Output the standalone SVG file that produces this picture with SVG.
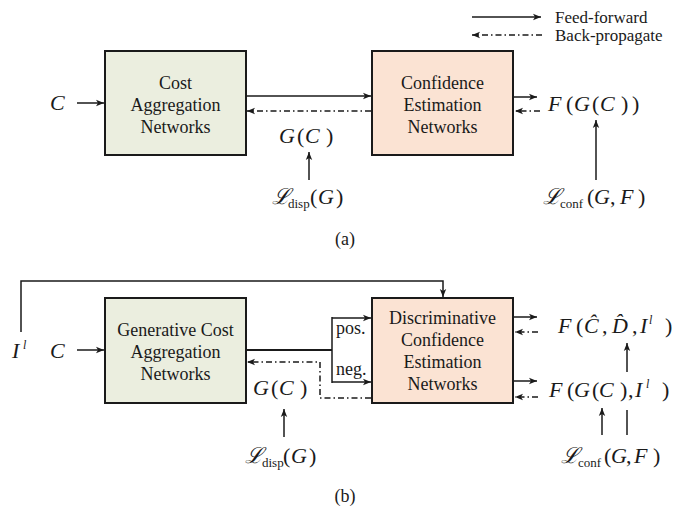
<svg xmlns="http://www.w3.org/2000/svg" width="691" height="506" viewBox="0 0 691 506">
<style>
.b1{fill:#ebeedf;stroke:#1a1a1a;stroke-width:2}
.b2{fill:#fbe3d3;stroke:#1a1a1a;stroke-width:2}
.t{font-family:"Liberation Serif","Times New Roman",serif;font-size:18px;fill:#1a1a1a;text-anchor:middle}
.tl{font-family:"Liberation Serif","Times New Roman",serif;font-size:18px;fill:#1a1a1a}
.lg{font-family:"Liberation Serif","Times New Roman",serif;font-size:17px;fill:#1a1a1a}
.m{font-family:"Liberation Serif","DejaVu Serif",serif;font-size:22px;fill:#1a1a1a}
.i{font-style:italic}
.sub{font-size:13px;font-style:normal}
.sup{font-size:12px;font-style:italic}
.ff{fill:none;stroke:#1a1a1a;stroke-width:1.5;marker-end:url(#ah)}
.bp{fill:none;stroke:#1a1a1a;stroke-width:1.5;stroke-dasharray:6 3 1.5 3;marker-end:url(#ah)}
.pl{fill:none;stroke:#1a1a1a;stroke-width:1.5}
.pl2{fill:none;stroke:#1a1a1a;stroke-width:2}
</style>
<defs>
<marker id="ah" markerUnits="userSpaceOnUse" markerWidth="10" markerHeight="8" refX="8" refY="4" orient="auto">
<path d="M0,0.8 L8,4 L0,7.2 L2,4 z" fill="#1a1a1a"/>
</marker>
</defs>
<rect width="691" height="506" fill="#ffffff"/>

<g id="legend">
<path class="ff" d="M472,17 H541"/>
<text class="lg" x="555" y="23">Feed-forward</text>
<path class="bp" d="M542,35 H472"/>
<text class="lg" x="555" y="41">Back-propagate</text>
</g>

<!-- Panel (a) -->
<g id="a-cost">
<rect class="b1" x="105" y="51" width="141" height="104"/>
<text class="t" x="175.5" y="89">Cost</text>
<text class="t" x="175.5" y="111">Aggregation</text>
<text class="t" x="175.5" y="133">Networks</text>
</g>
<g id="a-conf">
<rect class="b2" x="372" y="51" width="141" height="104"/>
<text class="t" x="442.5" y="89">Confidence</text>
<text class="t" x="442.5" y="111">Estimation</text>
<text class="t" x="442.5" y="133">Networks</text>
</g>
<g id="a-C"><text class="m i" x="50" y="110">C</text></g>
<g id="a-GC"><text class="m" y="143"><tspan class="i" x="279">G</tspan><tspan x="297">(</tspan><tspan class="i" x="305">C</tspan><tspan x="326">)</tspan></text></g>
<g id="a-Ldisp"><text class="m" y="204"><tspan class="i" x="272">ℒ</tspan><tspan class="sub" x="288" dy="4">disp</tspan><tspan x="310" dy="-4">(</tspan><tspan class="i" x="318">G</tspan><tspan x="336">)</tspan></text></g>
<g id="a-FGC"><text class="m" y="111"><tspan class="i" x="548">F</tspan><tspan x="566">(</tspan><tspan class="i" x="574">G</tspan><tspan x="592">(</tspan><tspan class="i" x="600">C</tspan><tspan x="621">)</tspan><tspan x="632">)</tspan></text></g>
<g id="a-Lconf"><text class="m" y="204"><tspan class="i" x="543">ℒ</tspan><tspan class="sub" x="560" dy="4">conf</tspan><tspan x="587" dy="-4">(</tspan><tspan class="i" x="594">G</tspan><tspan x="610">,</tspan><tspan class="i" x="620">F</tspan><tspan x="638">)</tspan></text></g>
<g id="a-label"><text class="t" x="345" y="245">(a)</text></g>

<g id="a-connectors">
<path class="ff" d="M77,103 H104"/>
<path class="ff" d="M246,96 H371"/>
<path class="bp" d="M371,111 H247"/>
<path class="ff" d="M514,97 H537"/>
<path class="bp" d="M540,111 H515"/>
<path class="ff" d="M309,180 V152"/>
<path class="ff" d="M596,180 V120"/>
</g>

<!-- Panel (b) -->
<g id="b-gen">
<rect class="b1" x="105" y="298" width="141" height="105"/>
<text class="t" x="175.5" y="336">Generative Cost</text>
<text class="t" x="175.5" y="358">Aggregation</text>
<text class="t" x="175.5" y="380">Networks</text>
</g>
<g id="b-disc">
<rect class="b2" x="372" y="298" width="141" height="105"/>
<text class="t" x="442.5" y="324">Discriminative</text>
<text class="t" x="442.5" y="346">Confidence</text>
<text class="t" x="442.5" y="368">Estimation</text>
<text class="t" x="442.5" y="390">Networks</text>
</g>
<g id="b-Il"><text class="m" y="358"><tspan class="i" x="12">I</tspan><tspan class="sup" x="23" dy="-9">l</tspan></text></g>
<g id="b-C"><text class="m i" x="50" y="358">C</text></g>
<g id="b-pos"><text class="tl" x="336" y="334">pos.</text></g>
<g id="b-neg"><text class="tl" x="336" y="375">neg.</text></g>
<g id="b-GC"><text class="m" y="395"><tspan class="i" x="253">G</tspan><tspan x="271">(</tspan><tspan class="i" x="279">C</tspan><tspan x="300">)</tspan></text></g>
<g id="b-Ldisp"><text class="m" y="463"><tspan class="i" x="245">ℒ</tspan><tspan class="sub" x="262" dy="4">disp</tspan><tspan x="283" dy="-4">(</tspan><tspan class="i" x="291">G</tspan><tspan x="309">)</tspan></text></g>
<g id="b-FCD"><text class="m" y="333"><tspan class="i" x="558">F</tspan><tspan x="576">(</tspan><tspan class="i" x="584">Ĉ</tspan><tspan x="602">,</tspan><tspan class="i" x="612">D̂</tspan><tspan x="632">,</tspan><tspan class="i" x="640">I</tspan><tspan class="sup" x="649" dy="-9">l</tspan><tspan x="665" dy="9">)</tspan></text></g>
<g id="b-FGCI"><text class="m" y="397"><tspan class="i" x="549">F</tspan><tspan x="567">(</tspan><tspan class="i" x="574">G</tspan><tspan x="592">(</tspan><tspan class="i" x="599">C</tspan><tspan x="620">)</tspan><tspan x="628">,</tspan><tspan class="i" x="635">I</tspan><tspan class="sup" x="646" dy="-9">l</tspan><tspan x="662" dy="9">)</tspan></text></g>
<g id="b-Lconf"><text class="m" y="463"><tspan class="i" x="561">ℒ</tspan><tspan class="sub" x="578" dy="4">conf</tspan><tspan x="604" dy="-4">(</tspan><tspan class="i" x="611">G</tspan><tspan x="626">,</tspan><tspan class="i" x="634">F</tspan><tspan x="653">)</tspan></text></g>
<g id="b-label"><text class="t" x="345" y="502">(b)</text></g>

<g id="b-connectors">
<path class="ff" d="M21,332 V281 H443 V297"/>
<path class="ff" d="M77,350 H104"/>
<path class="pl2" d="M246,350 H332"/>
<path class="pl" d="M332,317 V383"/>
<path class="ff" d="M332,318 H371"/>
<path class="ff" d="M332,382 H371"/>
<path class="bp" d="M371,398 H320 V362 H247"/>
<path class="ff" d="M284,437 V409"/>
<path class="ff" d="M514,317 H537"/>
<path class="bp" d="M538,332 H515"/>
<path class="ff" d="M514,381 H537"/>
<path class="bp" d="M538,397 H515"/>
<path class="ff" d="M627,372 V343"/>
<path class="ff" d="M602,435 V408"/>
<path class="pl" d="M627,435 V410"/>
</g>
</svg>
